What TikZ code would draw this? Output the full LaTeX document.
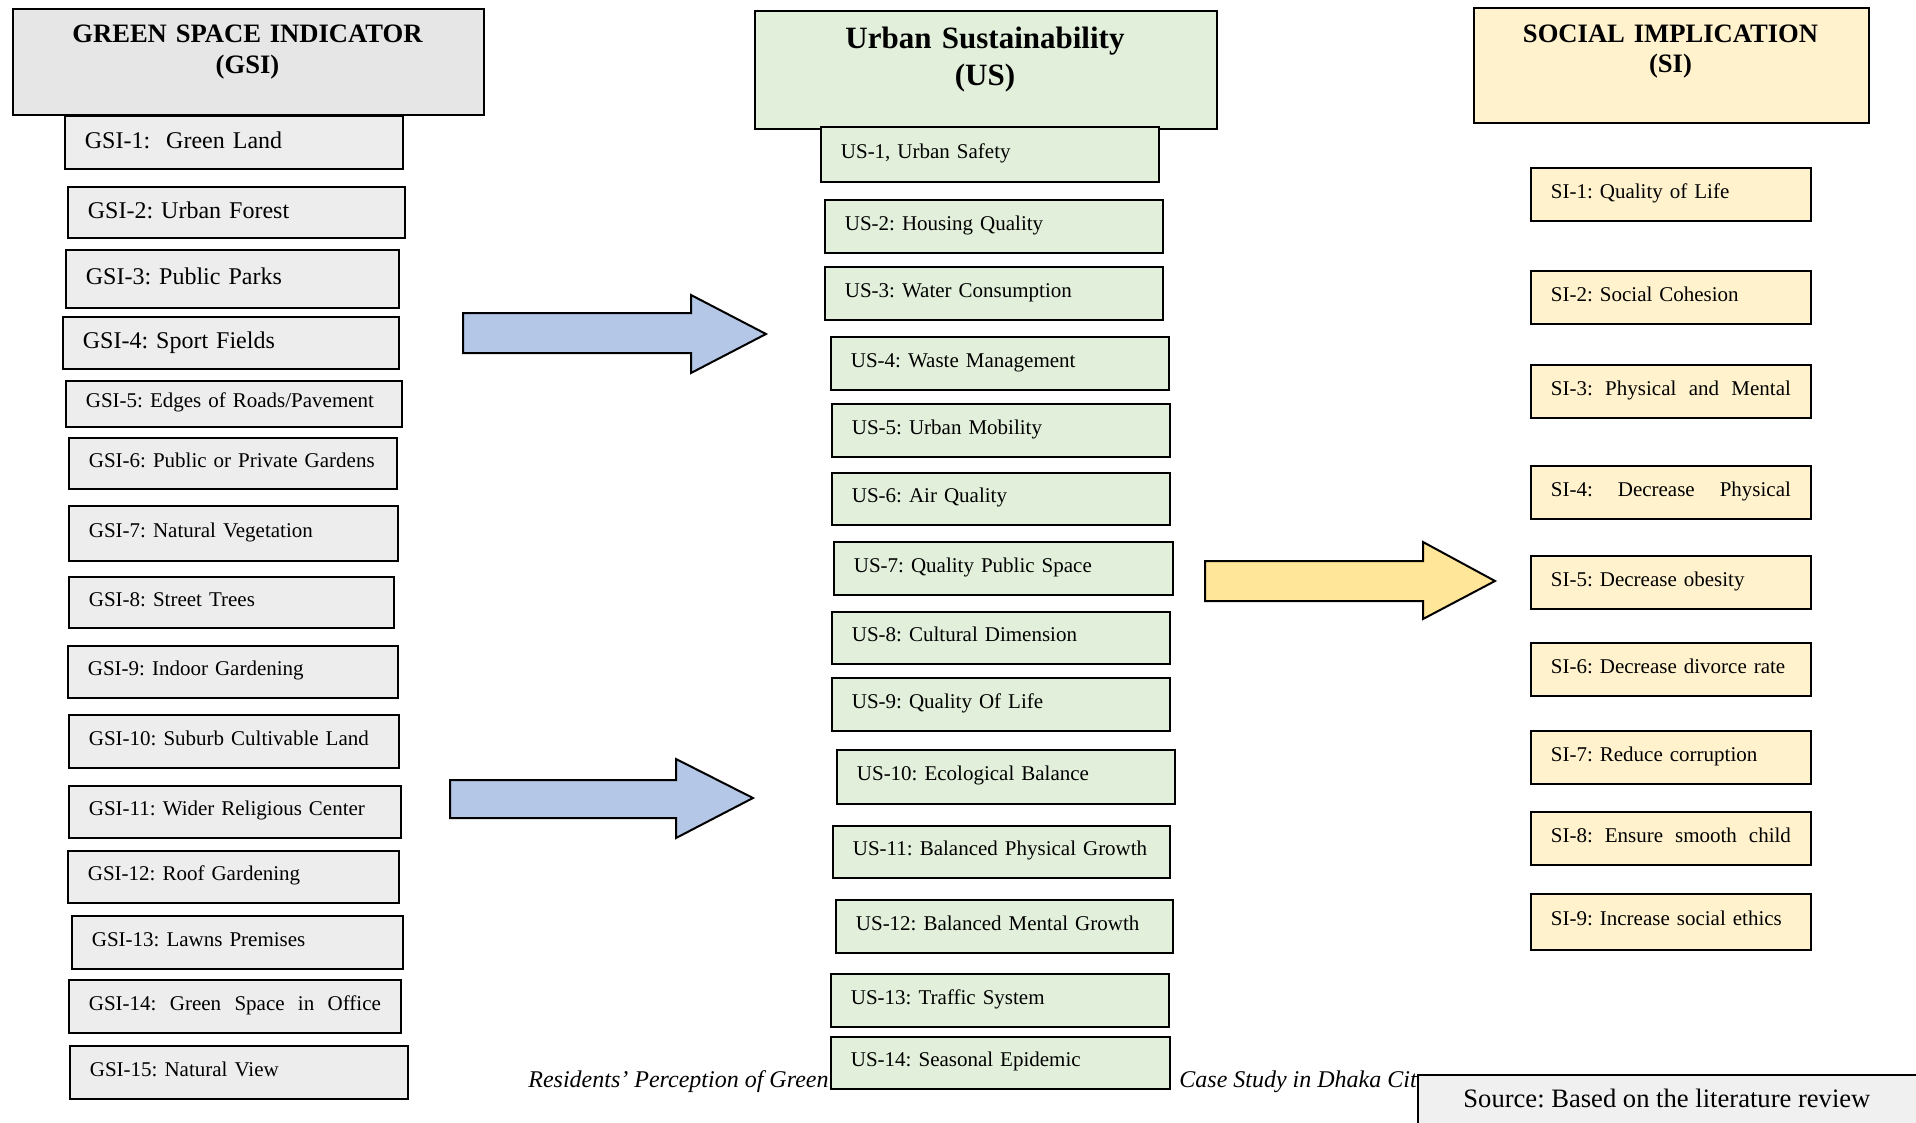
\documentclass[tikz,border=0pt]{standalone}
\usepackage{fontspec}
\setmainfont{Liberation Serif}
\usetikzlibrary{positioning}
\definecolor{gsihead}{HTML}{E6E6E6}
\definecolor{gsifill}{HTML}{EDEDED}
\definecolor{usfill}{HTML}{E2EFDA}
\definecolor{sifill}{HTML}{FFF2CC}
\definecolor{bluearrow}{HTML}{B4C7E7}
\definecolor{goldarrow}{HTML}{FFE699}
\definecolor{srcfill}{HTML}{F0F0F0}
\tikzset{wd/.style={text width=#1-20pt}}
\frenchspacing

\begin{document}
\begin{tikzpicture}[x=0.5pt,y=-0.5pt,line join=miter]
    \tikzstyle{headbox}=[draw,line width=1pt,anchor=north west,inner sep=0pt]
    \tikzstyle{headtext}=[anchor=base,align=center,inner sep=0pt,text width=220pt,font=\bfseries\fontsize{13.3}{15.5}\selectfont]
    \tikzstyle{ibox}=[draw,line width=0.9pt,anchor=north west,inner xsep=10pt,inner ysep=0pt,minimum height=26.5pt,align=left,text height=7.5pt,text depth=3.5pt,font=\fontsize{10.5}{12.6}\selectfont]
    \tikzstyle{big}=[text height=8.6pt,text depth=2.6pt,font=\fontsize{12}{14}\selectfont]
    \tikzstyle{gsibox}=[ibox,fill=gsifill,wd=169pt]
    \tikzstyle{usbox}=[ibox,fill=usfill,wd=169pt]
    \tikzstyle{sibox}=[ibox,fill=sifill,wd=140pt]
    \tikzstyle{blockarrow}=[draw,line width=1pt]
    \tikzstyle{captext}=[anchor=base west,inner sep=0pt,font=\itshape\fontsize{12}{14}\selectfont]

    \path[use as bounding box,clip] (0,0) rectangle (1916,1123);

    % caption behind the boxes
    \node[captext] (capleft) at (528,1087) {Residents’ Perception of Green};
    \node[captext] (capright) at (1179,1087) {Case Study in Dhaka Cit};

    % green space indicators
    \node[headbox,fill=gsihead,minimum width=235.5pt,minimum height=53pt] (gsihead) at (12,8) {};
    \node[headtext] (gsititle) at (247.5,43) {GREEN SPACE INDICATOR\\(GSI)};
    \node[gsibox,big] (gsi1) at (64,115) {GSI-1:\ \ Green Land};
    \node[gsibox,big,wd=168.5pt,minimum height=25.5pt] (gsi2) at (67,186) {GSI-2: Urban Forest};
    \node[gsibox,big,wd=166.5pt,minimum height=29pt] (gsi3) at (65,249) {GSI-3: Public Parks};
    \node[gsibox,big,wd=168pt,minimum height=26pt] (gsi4) at (62,316) {GSI-4: Sport Fields};
    \node[gsibox,wd=168pt,minimum height=23pt] (gsi5) at (65,380) {GSI-5: Edges of Roads/Pavement};
    \node[gsibox,wd=164pt,minimum height=25.5pt] (gsi6) at (68,437) {GSI-6: Public or Private Gardens};
    \node[gsibox,wd=164.5pt,minimum height=27.5pt] (gsi7) at (68,505) {GSI-7: Natural Vegetation};
    \node[gsibox,wd=162.5pt,minimum height=25.5pt] (gsi8) at (68,576) {GSI-8: Street Trees};
    \node[gsibox,wd=165pt,minimum height=26pt] (gsi9) at (67,645) {GSI-9: Indoor Gardening};
    \node[gsibox,wd=165pt] (gsi10) at (68,714) {GSI-10: Suburb Cultivable Land};
    \node[gsibox,wd=166pt,minimum height=26pt] (gsi11) at (68,785) {GSI-11: Wider Religious Center};
    \node[gsibox,wd=165.5pt,minimum height=26pt] (gsi12) at (67,850) {GSI-12: Roof Gardening};
    \node[gsibox,wd=165.5pt] (gsi13) at (71,915) {GSI-13: Lawns Premises};
    \node[gsibox,wd=166pt] (gsi14) at (68,979) {GSI-14:\hfill Green\hfill Space\hfill in\hfill Office};
    \node[gsibox] (gsi15) at (69,1045) {GSI-15: Natural View};

    % urban sustainability
    \node[headbox,fill=usfill,minimum width=231pt,minimum height=59pt] (ushead) at (754,10) {};
    \node[headtext,font=\bfseries\fontsize{15.5}{18.5}\selectfont] (ustitle) at (985,49) {Urban Sustainability\\(US)};
    \node[usbox,minimum height=27.5pt] (us1) at (820,126) {US-1, Urban Safety};
    \node[usbox] (us2) at (824,199) {US-2: Housing Quality};
    \node[usbox] (us3) at (824,266) {US-3: Water Consumption};
    \node[usbox] (us4) at (830,336) {US-4: Waste Management};
    \node[usbox] (us5) at (831,403) {US-5: Urban Mobility};
    \node[usbox,minimum height=26pt] (us6) at (831,472) {US-6: Air Quality};
    \node[usbox,wd=169.5pt] (us7) at (833,541) {US-7: Quality Public Space};
    \node[usbox,minimum height=26pt] (us8) at (831,611) {US-8: Cultural Dimension};
    \node[usbox] (us9) at (831,677) {US-9: Quality Of Life};
    \node[usbox,minimum height=27pt] (us10) at (836,749) {US-10: Ecological Balance};
    \node[usbox,wd=168.5pt,minimum height=26pt] (us11) at (832,825) {US-11: Balanced Physical Growth};
    \node[usbox,wd=168.5pt] (us12) at (835,899) {US-12: Balanced Mental Growth};
    \node[usbox,minimum height=26.5pt] (us13) at (830,973) {US-13: Traffic System};
    \node[usbox,wd=169.5pt,minimum height=26pt] (us14) at (830,1036) {US-14: Seasonal Epidemic};

    % social implications
    \node[headbox,fill=sifill,minimum width=197.5pt,minimum height=57.5pt] (sihead) at (1473,7) {};
    \node[headtext,font=\bfseries\fontsize{13.3}{15}\selectfont] (sititle) at (1670.5,43) {SOCIAL IMPLICATION\\(SI)};
    \node[sibox] (si1) at (1530,167) {SI-1: Quality of Life};
    \node[sibox] (si2) at (1530,270) {SI-2: Social Cohesion};
    \node[sibox] (si3) at (1530,364) {SI-3:\hfill Physical\hfill and\hfill Mental};
    \node[sibox] (si4) at (1530,465) {SI-4:\hfill Decrease\hfill Physical};
    \node[sibox] (si5) at (1530,555) {SI-5: Decrease obesity};
    \node[sibox] (si6) at (1530,642) {SI-6: Decrease divorce rate};
    \node[sibox] (si7) at (1530,730) {SI-7: Reduce corruption};
    \node[sibox] (si8) at (1530,811) {SI-8:\hfill Ensure\hfill smooth\hfill child};
    \node[sibox,minimum height=28pt] (si9) at (1530,893) {SI-9: Increase social ethics};

    % block arrows
    \draw[blockarrow,fill=bluearrow] (463,313) -- (691,313) -- (691,295) -- (766,334) -- (691,373) -- (691,353) -- (463,353) -- cycle;
    \draw[blockarrow,fill=bluearrow] (450,780) -- (676,780) -- (676,759) -- (753,798) -- (676,838) -- (676,818) -- (450,818) -- cycle;
    \draw[blockarrow,fill=goldarrow] (1205,561) -- (1423,561) -- (1423,542) -- (1495,581) -- (1423,619) -- (1423,601) -- (1205,601) -- cycle;

    % source note
    \node[headbox,fill=srcfill,minimum width=270pt,minimum height=40pt] (srcbox) at (1417,1074) {};
    \node[anchor=base west,inner sep=0pt,font=\fontsize{13.3}{15.5}\selectfont] (srctext) at (1463,1107) {Source: Based on the literature review};
\end{tikzpicture}
\end{document}
